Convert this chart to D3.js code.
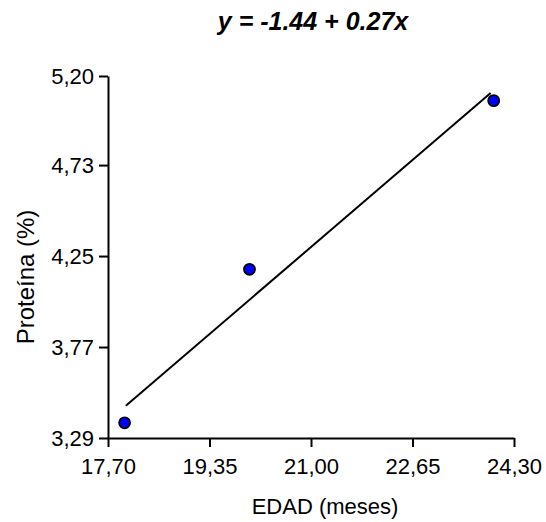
<!DOCTYPE html>
<html>
<head>
<meta charset="utf-8">
<script src="https://cdn.jsdelivr.net/npm/d3@7"></script>
<style>
  body { margin: 0; background: #fff; }
  svg text { font-family: "Liberation Sans", Arial, sans-serif; fill: #000; }
  .axis path, .axis line { stroke: #000; stroke-width: 2; }
  .axis text { font-size: 22px; }
</style>
</head>
<body>
<div id="chart"></div>
<script>
var edad = [17.97, 20.0, 23.97];
var proteina = [3.37, 4.18, 5.07];
var fitX = [17.99, 23.92];
var fitY = [3.46, 5.11];
var xTicks = [17.70, 19.35, 21.00, 22.65, 24.30];
var yTicks = [3.29, 3.77, 4.25, 4.73, 5.20];
var title = "y = -1.44 + 0.27x";

var width = 546, height = 522;
var fmt = d => d.toFixed(2).replace(".", ",");

var svg = d3.select("#chart")
  .append("svg")
    .attr("width", width)
    .attr("height", height);

var x = d3.scaleLinear()
  .domain([17.70, 24.30])
  .range([108, 514]);

var y = d3.scaleLinear()
  .domain([3.29, 5.20])
  .range([438, 76]);

svg.append("g")
  .attr("class", "axis")
  .attr("transform", "translate(0,438)")
  .call(d3.axisBottom(x).tickValues(xTicks).tickFormat(fmt).tickSize(9).tickSizeOuter(0).tickPadding(11));

svg.append("g")
  .attr("class", "axis")
  .attr("transform", "translate(108,0)")
  .call(d3.axisLeft(y).tickValues(yTicks).tickFormat(fmt).tickSize(9).tickSizeOuter(0).tickPadding(5));

// regression line
svg.append("path")
  .datum(d3.zip(fitX, fitY))
  .attr("fill", "none")
  .attr("stroke", "#000")
  .attr("stroke-width", 2)
  .attr("d", d3.line()
    .x(d => x(d[0]))
    .y(d => y(d[1]))
  );

svg.selectAll("circle.pt")
  .data(d3.zip(edad, proteina))
  .enter().append("circle")
    .attr("class", "pt")
    .attr("cx", d => x(d[0]))
    .attr("cy", d => y(d[1]))
    .attr("r", 5.5)
    .attr("fill", "#0000ff")
    .attr("stroke", "#000")
    .attr("stroke-width", 1.8);

svg.append("text")
  .attr("x", 313)
  .attr("y", 30)
  .attr("text-anchor", "middle")
  .style("font-size", "25px")
  .style("font-weight", "bold")
  .style("font-style", "italic")
  .text(title);

svg.append("text")
  .attr("x", 325)
  .attr("y", 514)
  .attr("text-anchor", "middle")
  .style("font-size", "22px")
  .text("EDAD (meses)");

svg.append("text")
  .attr("transform", "translate(34,277) rotate(-90)")
  .attr("text-anchor", "middle")
  .style("font-size", "24px")
  .text("Proteína (%)");
</script>
</body>
</html>
